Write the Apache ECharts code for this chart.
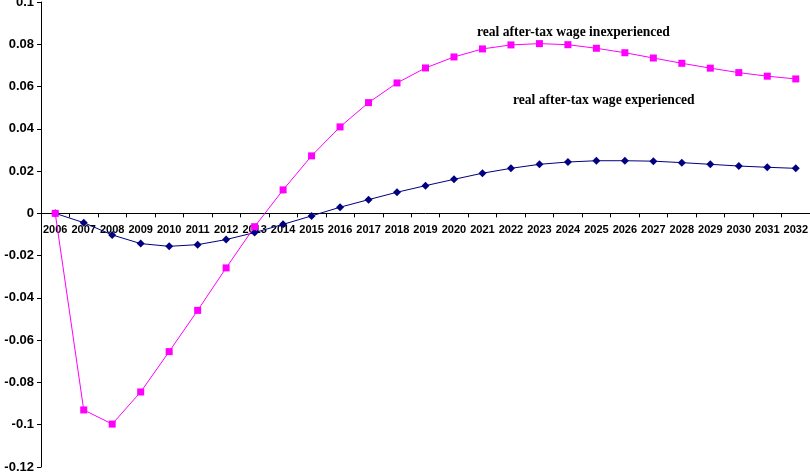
<!DOCTYPE html>
<html>
<head>
<meta charset="utf-8">
<script src="https://cdn.jsdelivr.net/npm/echarts@6/dist/echarts.min.js"></script>
<style>
  html, body { margin: 0; padding: 0; background: #fff; }
</style>
</head>
<body>
<div id="main" style="width: 810px;height:474px;"></div>
<script type="text/javascript">
    // years on the x axis
    var years = ['2006', '2007', '2008', '2009', '2010', '2011', '2012', '2013', '2014', '2015',
        '2016', '2017', '2018', '2019', '2020', '2021', '2022', '2023', '2024', '2025',
        '2026', '2027', '2028', '2029', '2030', '2031', '2032'];

    // real after-tax wage, inexperienced workers
    var inexperienced = [0, -0.093, -0.0997, -0.0845, -0.0654, -0.0459, -0.0258, -0.0063, 0.0111, 0.0272,
        0.0409, 0.0524, 0.0617, 0.0688, 0.074, 0.0778, 0.0797, 0.0803, 0.0798, 0.0781,
        0.076, 0.0735, 0.071, 0.0687, 0.0666, 0.0649, 0.0636];

    // real after-tax wage, experienced workers
    var experienced = [0, -0.0044, -0.0102, -0.0143, -0.0156, -0.0148, -0.0124, -0.0091, -0.0052, -0.0012,
        0.0029, 0.0065, 0.01, 0.0131, 0.0161, 0.019, 0.0213, 0.0232, 0.0243, 0.0249,
        0.0249, 0.0247, 0.024, 0.0232, 0.0224, 0.0218, 0.0213];

    var yMin = -0.12, yMax = 0.1;
    var gridTop = 2, gridBottom = 7, chartH = 474;
    // shift the category axis (line, ticks and labels) up to the zero line
    var plotH = chartH - gridTop - gridBottom;
    var zeroOffset = -plotH * (0 - yMin) / (yMax - yMin);

    var myChart = echarts.init(document.getElementById('main'));

    var option = {
        animation: false,
        backgroundColor: '#fff',
        grid: {
            left: 41,
            right: 0,
            top: gridTop,
            bottom: gridBottom,
            containLabel: false,
            outerBoundsMode: 'none'
        },
        xAxis: {
            type: 'category',
            data: years,
            boundaryGap: true,
            position: 'bottom',
            offset: zeroOffset,
            axisLine: { onZero: false, lineStyle: { color: '#000', width: 1 } },
            axisTick: { show: true, inside: false, length: 4, alignWithLabel: false, lineStyle: { color: '#000' } },
            axisLabel: {
                interval: 0,
                color: '#000',
                fontFamily: 'Liberation Sans, Arial, sans-serif',
                fontWeight: 'bold',
                fontSize: 11,
                margin: 11
            },
            splitLine: { show: false }
        },
        yAxis: {
            type: 'value',
            min: yMin,
            max: yMax,
            interval: 0.02,
            axisLine: { show: true, onZero: false, lineStyle: { color: '#000', width: 1 } },
            axisTick: { show: true, length: 4, lineStyle: { color: '#000' } },
            axisLabel: {
                color: '#000',
                fontFamily: 'Liberation Sans, Arial, sans-serif',
                fontWeight: 'bold',
                fontSize: 13,
                margin: 7,
                formatter: function (v) {
                    return parseFloat(v.toFixed(2)).toString();
                }
            },
            splitLine: { show: false }
        },
        graphic: [
            {
                type: 'text',
                left: 477,
                top: 25,
                style: {
                    text: 'real after-tax wage inexperienced',
                    fill: '#000',
                    font: 'bold 13.6px "Liberation Serif", "Times New Roman", serif'
                }
            },
            {
                type: 'text',
                left: 513,
                top: 93,
                style: {
                    text: 'real after-tax wage experienced',
                    fill: '#000',
                    font: 'bold 13.6px "Liberation Serif", "Times New Roman", serif'
                }
            }
        ],
        series: [
            {
                name: 'real after-tax wage inexperienced',
                type: 'line',
                data: inexperienced,
                symbol: 'rect',
                symbolSize: 7,
                lineStyle: { color: '#ff00ff', width: 1 },
                itemStyle: { color: '#ff00ff' },
                z: 3
            },
            {
                name: 'real after-tax wage experienced',
                type: 'line',
                data: experienced,
                symbol: 'diamond',
                symbolSize: 8,
                lineStyle: { color: '#000080', width: 1 },
                itemStyle: { color: '#000080' },
                z: 2
            }
        ]
    };
    myChart.setOption(option);
</script>
</body>
</html>
